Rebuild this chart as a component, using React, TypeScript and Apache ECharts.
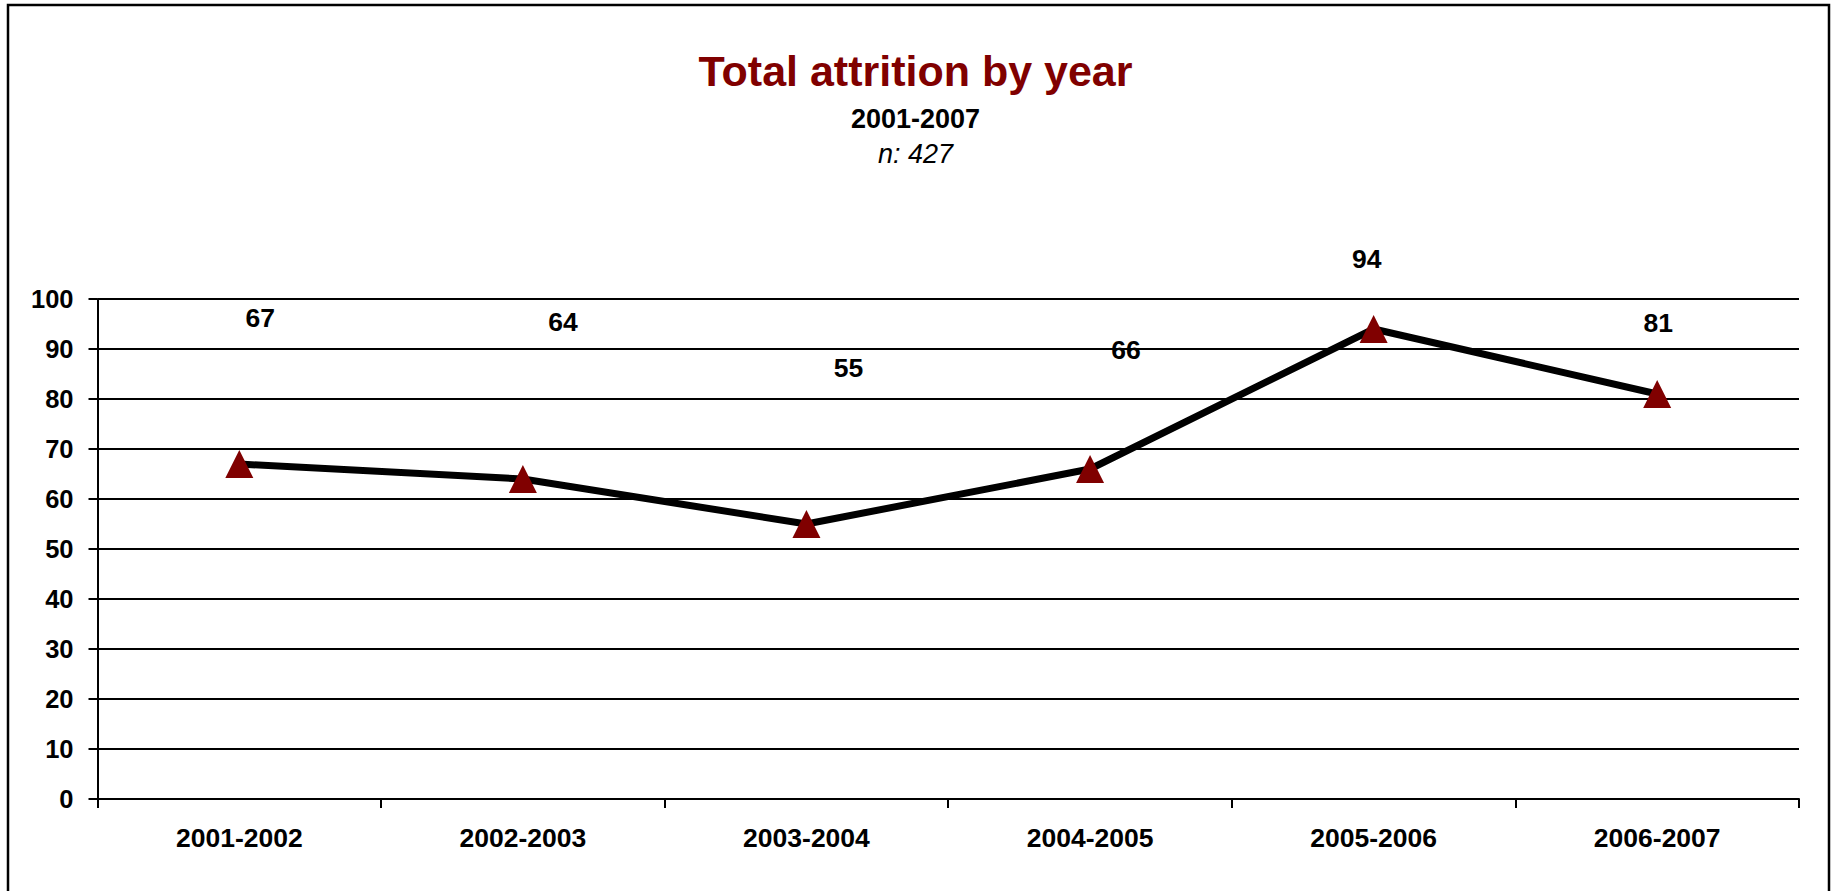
import React, { useEffect, useRef } from "react";
import * as echarts from "echarts";

const categories = ["2001-2002", "2002-2003", "2003-2004", "2004-2005", "2005-2006", "2006-2007"];
const attrition = [67, 64, 55, 66, 94, 81];
const labelOffsets: [number, number][] = [
  [21, -146],
  [40, -157],
  [42, -156],
  [36, -119],
  [-7, -70],
  [1, -71],
];
const yTicks = { min: 0, max: 100, interval: 10 };
const titleText = "Total attrition by year";
const subtitleText = "2001-2007";
const nText = "n: 427";

const FONT = '"Liberation Sans", Arial, Helvetica, sans-serif';

export default function App() {
  const ref = useRef<HTMLDivElement>(null);
  useEffect(() => {
    if (!ref.current) return;
    const chart = echarts.init(ref.current, null, { renderer: "svg" });
    chart.setOption({
      animation: false,
      backgroundColor: "#ffffff",
      title: [
        {
          text: titleText,
          left: "center",
          top: 44,
          textStyle: { fontFamily: FONT, fontSize: 43, fontWeight: "bold", color: "#800000" },
        },
        {
          text: subtitleText,
          left: "center",
          top: 100,
          textStyle: { fontFamily: FONT, fontSize: 27, fontWeight: "bold", color: "#000000" },
        },
        {
          text: nText,
          left: "center",
          top: 135,
          textStyle: { fontFamily: FONT, fontSize: 27, fontStyle: "italic", fontWeight: "normal", color: "#000000" },
        },
      ],
      graphic: [
        {
          type: "rect",
          shape: { x: 8, y: 5, width: 1821, height: 920 },
          style: { fill: "none", stroke: "#000000", lineWidth: 2.5 },
          silent: true,
        },
      ],
      grid: { left: 97.5, right: 32, top: 299, bottom: 92, containLabel: false },
      xAxis: {
        type: "category",
        data: categories,
        boundaryGap: true,
        axisLine: { show: true, lineStyle: { color: "#000000", width: 2 } },
        axisTick: { show: true, length: 9, alignWithLabel: false, lineStyle: { color: "#000000", width: 2 } },
        axisLabel: { margin: 25, fontFamily: FONT, fontSize: 26.5, fontWeight: "bold", color: "#000000", interval: 0 },
        splitLine: { show: false },
      },
      yAxis: {
        type: "value",
        min: yTicks.min,
        max: yTicks.max,
        interval: yTicks.interval,
        axisLine: { show: true, lineStyle: { color: "#000000", width: 2 } },
        axisTick: { show: true, length: 9, lineStyle: { color: "#000000", width: 2 } },
        axisLabel: { margin: 24, fontFamily: FONT, fontSize: 25.5, fontWeight: "bold", color: "#000000" },
        splitLine: { show: true, lineStyle: { color: "#000000", width: 2 } },
      },
      series: [
        {
          type: "line",
          data: attrition.map((v, i) => ({
            value: v,
            label: { offset: labelOffsets[i] },
          })),
          symbol: "triangle",
          symbolSize: [28, 28],
          itemStyle: { color: "#800000", borderWidth: 0 },
          lineStyle: { color: "#000000", width: 7 },
          z: 3,
          label: {
            show: true,
            position: "inside",
            fontFamily: FONT,
            fontSize: 26.5,
            fontWeight: "bold",
            color: "#000000",
          },
        },
      ],
    });
    return () => chart.dispose();
  }, []);
  return (
    <div
      ref={ref}
      style={{ position: "absolute", left: 0, top: 0, width: 1831, height: 891 }}
    />
  );
}
